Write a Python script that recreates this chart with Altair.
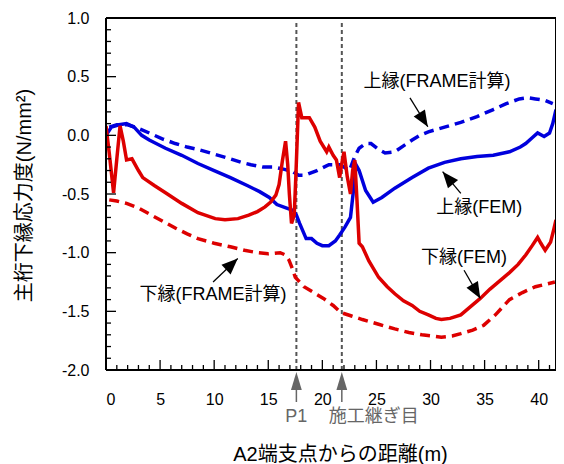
import math
import altair as alt
import pandas as pd

FONT = "Liberation Sans, Arial, Noto Sans CJK JP"
BLUE = "#0000DD"
RED = "#DD0000"
GRAY = "#666666"
FRAME = "black"

# ---------------- data ----------------
ue_fem_x = [0.0, 0.5, 1.2, 1.9, 2.6, 3.3, 4.0, 5.5, 7.0, 8.5, 10.0, 11.5, 13.1, 14.2, 15.1, 15.8,
            16.7, 17.3, 17.6, 17.9, 18.5, 19.0, 19.5, 20.0, 20.6, 21.2, 21.6, 22.1, 22.6, 22.9,
            23.1, 23.4, 24.0, 24.7, 25.5, 26.7, 28.3, 29.8, 31.3, 32.8, 34.3, 35.8, 37.3, 38.3,
            38.8, 39.4, 39.9, 40.5, 41.0, 41.3, 41.6]
ue_fem_y = [0.0, 0.07, 0.09, 0.10, 0.07, 0.0, -0.04, -0.11, -0.17, -0.24, -0.30, -0.36, -0.43,
            -0.48, -0.53, -0.59, -0.62, -0.64, -0.68, -0.75, -0.88, -0.88, -0.92, -0.94, -0.94,
            -0.90, -0.85, -0.78, -0.70, -0.45, -0.25, -0.30, -0.47, -0.57, -0.53, -0.45, -0.36,
            -0.28, -0.23, -0.20, -0.18, -0.17, -0.14, -0.10, -0.07, -0.02, 0.02, -0.01, 0.02,
            0.10, 0.22]

ue_frame_x = [0.3, 1.0, 2.0, 3.0, 4.0, 5.2, 6.4, 7.5, 8.5, 10.0, 11.5, 12.5, 13.4, 14.5, 15.5,
              16.5, 17.3, 17.8, 18.4, 19.5, 20.6, 21.6, 22.0, 22.5, 23.0, 23.4, 24.0, 24.5,
              25.2, 25.8, 26.7, 27.5, 28.3, 29.0, 29.8, 31.3, 32.8, 34.3, 35.8, 37.0, 38.2,
              39.0, 39.7, 40.5, 41.3]
ue_frame_y = [0.07, 0.09, 0.09, 0.06, 0.02, -0.03, -0.07, -0.10, -0.12, -0.16, -0.20, -0.23,
              -0.25, -0.27, -0.27, -0.29, -0.31, -0.34, -0.34, -0.30, -0.25, -0.25, -0.27,
              -0.30, -0.18, -0.11, -0.07, -0.07, -0.12, -0.15, -0.14, -0.09, -0.04, 0.0, 0.03,
              0.07, 0.11, 0.16, 0.22, 0.27, 0.31, 0.32, 0.31, 0.30, 0.27]

shita_fem_x = [0.0, 0.3, 0.7, 1.0, 1.3, 1.6, 1.9, 2.4, 3.0, 3.4, 4.5, 5.5, 7.0, 8.5, 10.1, 11.0,
               12.2, 13.2, 14.0, 14.7, 15.2, 15.7, 16.0, 16.3, 16.6, 16.8, 16.95, 17.15, 17.4,
               17.55, 17.8, 18.1, 18.8, 19.3, 19.8, 20.4, 20.6, 21.0, 21.3, 21.6, 21.8, 22.0,
               22.3, 22.6, 22.8, 23.0, 23.2, 23.4, 23.7, 24.3, 25.2, 26.0, 26.7, 27.5, 28.3,
               29.0, 29.8, 30.5, 31.0, 31.8, 32.8, 33.7, 34.6, 35.5, 36.4, 37.3, 38.1, 38.8,
               39.4, 39.9, 40.2, 40.6, 41.1, 41.4, 41.6]
shita_fem_y = [0.08, -0.15, -0.49, -0.20, 0.08, -0.05, -0.21, -0.20, -0.30, -0.36, -0.43, -0.49,
               -0.58, -0.66, -0.71, -0.72, -0.71, -0.68, -0.65, -0.61, -0.57, -0.51, -0.42,
               -0.22, -0.05, -0.25, -0.50, -0.75, -0.68, -0.35, 0.28, 0.15, 0.15, 0.07, -0.05,
               -0.14, -0.10, -0.17, -0.21, -0.36, -0.24, -0.14, -0.35, -0.50, -0.30, -0.21,
               -0.55, -0.92, -0.95, -1.07, -1.21, -1.29, -1.35, -1.41, -1.45, -1.50, -1.53,
               -1.56, -1.57, -1.56, -1.53, -1.46, -1.39, -1.31, -1.24, -1.17, -1.10, -1.02,
               -0.94, -0.87, -0.92, -0.98, -0.91, -0.80, -0.72]

shita_frame_x = [0.3, 1.0, 1.9, 3.0, 4.0, 5.2, 6.4, 7.5, 8.5, 10.0, 11.5, 12.8, 14.0, 15.0,
                 16.1, 16.6, 16.9, 17.2, 17.5, 18.3, 19.2, 20.1, 21.0, 21.7, 22.7, 23.7, 25.2,
                 26.7, 28.0, 29.2, 30.2, 31.0, 32.0, 32.8, 33.9, 34.9, 36.0, 37.3, 38.5, 39.7,
                 40.6, 41.5]
shita_frame_y = [-0.55, -0.56, -0.58, -0.62, -0.67, -0.73, -0.79, -0.84, -0.88, -0.92, -0.95,
                 -0.98, -1.00, -1.01, -1.00, -1.02, -1.06, -1.13, -1.21, -1.29, -1.34, -1.39,
                 -1.45, -1.51, -1.54, -1.57, -1.61, -1.65, -1.68, -1.70, -1.71, -1.72, -1.71,
                 -1.69, -1.66, -1.62, -1.53, -1.40, -1.34, -1.29, -1.27, -1.25]

# annotations
ann_text = ["上縁(FRAME計算)", "上縁(FEM)", "下縁(FEM)", "下縁(FRAME計算)"]
ann_x = [30.6, 34.5, 33.1, 9.9]
ann_y = [0.455, -0.62, -1.045, -1.36]
arrow_x0 = [28.1, 32.8, 33.1, 9.9]
arrow_y0 = [0.32, -0.495, -1.15, -1.25]
arrow_x1 = [29.75, 31.12, 34.6, 12.18]
arrow_y1 = [0.073, -0.31, -1.39, -1.049]

mark_x = [17.6, 21.8]
mark_label = ["P1", "施工継ぎ目"]
mark_label_x = [17.6, 20.6]
mark_label_align = ["center", "left"]

x_major = [0, 5, 10, 15, 20, 25, 30, 35, 40]
x_minor = list(range(0, 42))
y_major = [-2.0, -1.5, -1.0, -0.5, 0.0, 0.5, 1.0]
y_minor = [round(-2.0 + 0.1 * i, 1) + 0.0 for i in range(31)]

# ---------------- layout ----------------
W, H = 450, 352
XMAX = 41.6
YMIN, YMAX = -2.0, 1.0
px_x = W / XMAX
px_y = H / (YMAX - YMIN)

xscale = alt.Scale(domain=[0, XMAX], nice=False, zero=False)
yscale = alt.Scale(domain=[YMIN, YMAX], nice=False, zero=False)

x_axis = alt.Axis(values=x_major, labelFontSize=16, labelFont=FONT, labelColor="#000",
                  labelPadding=21, ticks=False, domain=False, grid=False,
                  title="A2端支点からの距離(m)", titleFont=FONT, titleFontSize=20,
                  titleFontWeight="normal", titleColor="#000",
                  titleX=234, titleY=84, titleBaseline="middle", titleAlign="center")
y_axis = alt.Axis(values=y_major, labelFontSize=16, labelFont=FONT, labelColor="#000",
                  labelPadding=17, ticks=False, domain=False, grid=False,
                  labelExpr="replace(format(datum.value, '.1f'), '\u2212', '-')",
                  title="主桁下縁応力度(N/mm²)", titleFont=FONT, titleFontSize=20,
                  titleFontWeight="normal", titleColor="#000",
                  titleX=-82, titleY=177, titleBaseline="middle", titleAlign="center",
                  titleAngle=270)


def X(field):
    return alt.X(f"{field}:Q", scale=xscale, axis=x_axis)


def Y(field):
    return alt.Y(f"{field}:Q", scale=yscale, axis=y_axis)


def line_layer(xs, ys, color, dash):
    df = pd.DataFrame({"x": xs, "y": ys})
    kw = dict(color=color, strokeWidth=3.5, clip=True)
    if dash:
        kw["strokeDash"] = dash
    return alt.Chart(df).mark_line(**kw).encode(x=X("x"), y=Y("y"))


# tick segments (inward) built from the tick lists, lengths given in pixels
tick_rows = []
for v in x_minor:
    ln = (10 if v in x_major else 5) / px_y
    tick_rows += [{"x": v, "y": YMIN, "seg": f"x{v}"}, {"x": v, "y": YMIN + ln, "seg": f"x{v}"}]
for v in y_minor:
    ln = (10 if any(abs(v - m) < 1e-9 for m in y_major) else 5) / px_x
    tick_rows += [{"x": 0.0, "y": v, "seg": f"y{v}"}, {"x": ln, "y": v, "seg": f"y{v}"}]
tick_df = pd.DataFrame(tick_rows)

frame_df = pd.DataFrame({
    "x": [0, XMAX, 0, XMAX, 0, 0, XMAX, XMAX],
    "y": [YMIN, YMIN, YMAX, YMAX, YMIN, YMAX, YMIN, YMAX],
    "seg": ["b", "b", "t", "t", "l", "l", "r", "r"],
})

layers = []

# vertical dotted marker lines
vdf = pd.DataFrame({"x": mark_x})
layers.append(alt.Chart(vdf).mark_rule(color="#555555", strokeWidth=2, strokeDash=[4, 3]).encode(
    x=X("x"), y=alt.value(5), y2=alt.value(H)))

layers.append(line_layer(ue_frame_x, ue_frame_y, BLUE, [10, 6]))
layers.append(line_layer(shita_frame_x, shita_frame_y, RED, [10, 6]))
layers.append(line_layer(ue_fem_x, ue_fem_y, BLUE, None))
layers.append(line_layer(shita_fem_x, shita_fem_y, RED, None))

# ticks and frame as line segments
layers.append(alt.Chart(tick_df).mark_line(color=FRAME, strokeWidth=1.3).encode(
    x=X("x"), y=Y("y"), detail="seg:N"))
layers.append(alt.Chart(frame_df).mark_line(color=FRAME, strokeWidth=2).encode(
    x=X("x"), y=Y("y"), detail="seg:N"))

# annotation texts
tdf = pd.DataFrame({"x": ann_x, "y": ann_y, "t": ann_text})
layers.append(alt.Chart(tdf).mark_text(font=FONT, fontSize=18, color="#000", align="center",
                                       baseline="middle").encode(x=X("x"), y=Y("y"), text="t:N"))

# arrows
angles = []
for x0, y0, x1, y1 in zip(arrow_x0, arrow_y0, arrow_x1, arrow_y1):
    dx = (x1 - x0) * px_x
    dy = -(y1 - y0) * px_y
    angles.append(math.degrees(math.atan2(dx, -dy)) % 360)
adf = pd.DataFrame({"x0": arrow_x0, "y0": arrow_y0, "x1": arrow_x1, "y1": arrow_y1, "a": angles})
layers.append(alt.Chart(adf).mark_rule(color="#000", strokeWidth=1.3).encode(
    x=X("x0"), y=Y("y0"), x2="x1:Q", y2="y1:Q"))
HEAD = "M0,0L-1.1,2.7L1.1,2.7Z"
layers.append(alt.Chart(adf).mark_point(shape=HEAD, filled=True, color="#000", opacity=1,
                                        size=144, strokeWidth=0).encode(
    x=X("x1"), y=Y("y1"), angle=alt.Angle("a:Q", scale=None)))

# markers under the axis
mdf = pd.DataFrame({"x": mark_x})
layers.append(alt.Chart(mdf).mark_rule(color=GRAY, strokeWidth=1.5).encode(
    x=X("x"), y=alt.value(H + 16), y2=alt.value(H + 32)))
layers.append(alt.Chart(mdf).mark_point(shape="M0,0L-0.6,2L0.6,2Z", filled=True, color=GRAY,
                                        opacity=1, size=324, strokeWidth=0).encode(
    x=X("x"), y=alt.value(H + 2)))
ldf = pd.DataFrame({"x": mark_label_x, "t": mark_label})
for i in range(len(mark_label)):
    layers.append(alt.Chart(ldf.iloc[[i]]).mark_text(font=FONT, fontSize=18, color=GRAY,
                                                     align=mark_label_align[i],
                                                     baseline="middle").encode(
        x=X("x"), y=alt.value(H + 47), text="t:N"))

chart = alt.layer(*layers).properties(
    width=W, height=H,
    background="white",
    autosize=alt.AutoSizeParams(type="none"),
    padding={"left": 98, "top": 10, "right": 0, "bottom": 94},
).configure_view(stroke=None)

chart.save("out.html", embed_options={"renderer": "svg", "actions": False})
